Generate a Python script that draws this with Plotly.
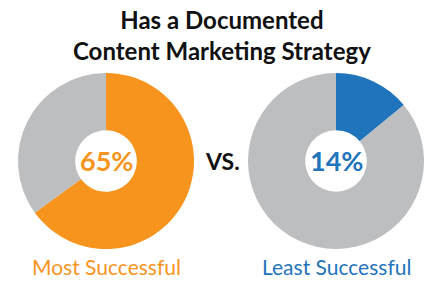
import plotly.graph_objects as go

groups = ["Most Successful", "Least Successful"]
documented_pct = [65, 14]
slice_labels = ["Documented", "Not documented"]
accent_colors = ["#F7941D", "#1F74BC"]
gray = "#BCBEC0"

W, H = 437, 295
fig = go.Figure()

# pixel boxes for the two donuts (left, right)
boxes = [(18, 194, 73, 249), (248, 424, 73, 249)]

def ann(x, y, text, size, color):
    fig.add_annotation(x=x / W, y=1 - y / H, xref="paper", yref="paper",
                       xanchor="center", yanchor="middle",
                       text=text, showarrow=False, align="center",
                       font=dict(family="Lato", size=size, color=color))

for i, g in enumerate(groups):
    x0, x1, y0, y1 = boxes[i]
    v = documented_pct[i]
    fig.add_trace(go.Pie(
        labels=slice_labels,
        values=[v, 100 - v],
        marker=dict(colors=[accent_colors[i], gray], line=dict(width=0)),
        hole=0.35,
        sort=False,
        direction="clockwise",
        rotation=0,
        textinfo="none",
        hoverinfo="skip",
        showlegend=False,
        domain=dict(x=[x0 / W, x1 / W], y=[1 - y1 / H, 1 - y0 / H]),
    ))
    cx = (x0 + x1) / 2
    cy = (y0 + y1) / 2
    ann(cx, cy, f"<b>{v}%</b>", 27, accent_colors[i])
    ann(cx, 266, g, 21, accent_colors[i])

ann(222, 161, "<b>VS.</b>", 23, "#111111")
ann(222, 35, "<b>Has a Documented<br>Content Marketing Strategy</b>", 24, "#111111")

fig.update_layout(width=W, height=H, margin=dict(l=0, r=0, t=0, b=0),
                  paper_bgcolor="white", plot_bgcolor="white")

fig.write_html("out.html")
